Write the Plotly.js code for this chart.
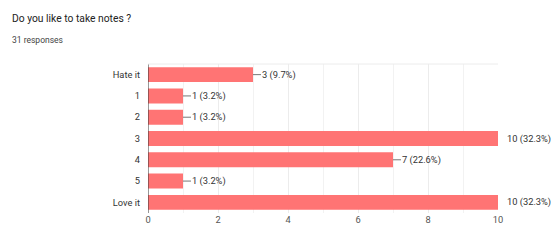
<!DOCTYPE html>
<html>
<head>
<meta charset="utf-8">
<script src="https://cdn.plot.ly/plotly-3.0.1.min.js"></script>
<style>html,body{margin:0;padding:0;background:#fff;}#chart{width:560px;height:240px;}</style>
</head>
<body>
<div id="chart"></div>
<script>
var categories = ["Hate it", "1", "2", "3", "4", "5", "Love it"];
var counts = [3, 1, 1, 10, 7, 1, 10];
var percents = ["9.7%", "3.2%", "3.2%", "32.3%", "22.6%", "3.2%", "32.3%"];
var xTicks = [0, 2, 4, 6, 8, 10];
var chartTitle = "Do you like to take notes ?";
var subtitle = "31 responses";

var xMax = 10;
var annotations = categories.map(function (c, i) {
  var atMax = counts[i] >= xMax;
  return {
    x: counts[i], y: i, xref: "x", yref: "y",
    text: counts[i] + " (" + percents[i] + ")",
    xanchor: "left", yanchor: "middle",
    showarrow: !atMax, borderpad: 0,
    ax: 8, ay: 0, arrowhead: 0, arrowwidth: 1, arrowcolor: "#777",
    xshift: atMax ? 8 : 0,
    font: {family: "Roboto, Arial, sans-serif", size: 9.3, color: "#333"}
  };
});
annotations.push({
  xref: "paper", yref: "paper", x: -137/350, y: 1 + 45/149,
  xanchor: "left", yanchor: "middle", showarrow: false, borderpad: 0,
  text: chartTitle,
  font: {family: "Roboto, Arial, sans-serif", size: 10.3, color: "#222"}
});
annotations.push({
  xref: "paper", yref: "paper", x: -137/350, y: 1 + 24/149,
  xanchor: "left", yanchor: "middle", showarrow: false, borderpad: 0,
  text: subtitle,
  font: {family: "Roboto, Arial, sans-serif", size: 8.5, color: "#444"}
});

var trace = {
  type: "bar", orientation: "h",
  x: counts, y: categories,
  marker: {color: "#ff7474"},
  width: 0.7,
  hoverinfo: "none"
};

var layout = {
  width: 560, height: 240,
  margin: {l: 148, r: 62, t: 64, b: 27, pad: 0},
  paper_bgcolor: "#fff", plot_bgcolor: "#fff",
  showlegend: false,
  font: {family: "Roboto, Arial, sans-serif", size: 9.3, color: "#444"},
  xaxis: {
    type: "linear",
    range: [0, 10], tickvals: xTicks, ticktext: xTicks.map(String),
    showgrid: true, gridcolor: "#ececec", gridwidth: 1,
    minor: {dtick: 1, showgrid: true, gridcolor: "#f2f2f2"},
    zeroline: false, showline: false, ticks: "",
    tickfont: {size: 9.3, color: "#555"}, fixedrange: true
  },
  yaxis: {
    type: "category",
    categoryorder: "array", categoryarray: categories,
    autorange: "reversed",
    showgrid: false, zeroline: false,
    showline: false, ticks: "", ticklabelstandoff: 7,
    tickfont: {size: 9.3, color: "#333"}, fixedrange: true
  },
  shapes: [
    {type: "line", xref: "x", yref: "paper", x0: 0, x1: 0, y0: 0, y1: 1, line: {color: "#333", width: 1}},
    {type: "line", xref: "paper", yref: "paper", x0: 0, x1: 1, y0: 1, y1: 1, line: {color: "#ececec", width: 1}}
  ],
  annotations: annotations
};

Plotly.newPlot("chart", [trace], layout, {displayModeBar: false, staticPlot: true});
</script>
</body>
</html>
